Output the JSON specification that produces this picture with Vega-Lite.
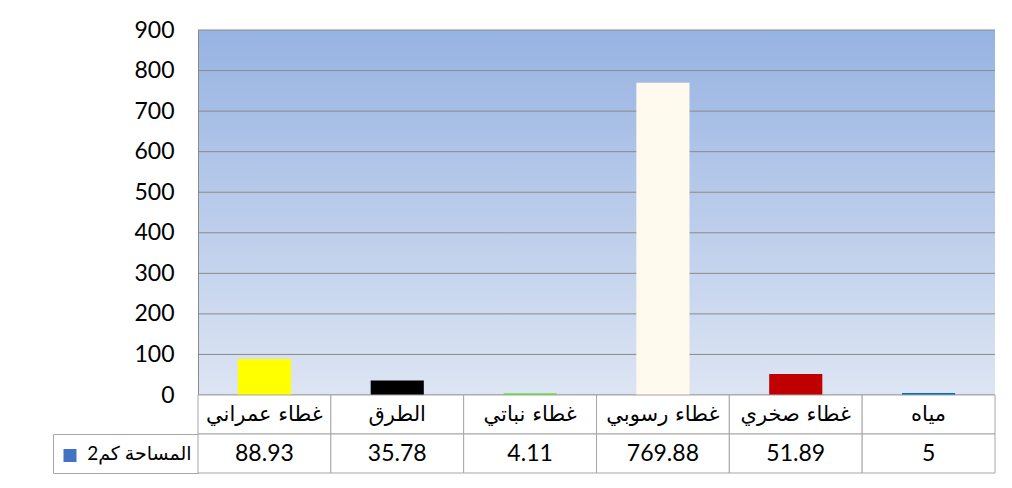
{
  "$schema": "https://vega.github.io/schema/vega-lite/v6.json",
  "padding": {"left": 52, "top": 19, "right": 0, "bottom": 0},
  "background": "white",
  "data": {"values": [
      {"category": "غطاء عمراني", "area": 88.93},
      {"category": "الطرق", "area": 35.78},
      {"category": "غطاء نباتي", "area": 4.11},
      {"category": "غطاء رسوبي", "area": 769.88},
      {"category": "غطاء صخري", "area": 51.89},
      {"category": "مياه", "area": 5}
  ]},
  "columns": 2,
  "spacing": 0,
  "bounds": "flush",
  "config": {"view": {"stroke": null}, "font": "Lato, DejaVu Sans"},
  "concat": [
    {"width": 145, "height": 365, "mark": {"type": "text"}, "encoding": {"text": {"value": ""}}},
    {
      "width": 797,
      "height": 365,
      "layer": [
        {
          "mark": {"type": "rect",
            "color": {"gradient": "linear", "x1": 0, "y1": 0, "x2": 0, "y2": 1,
              "stops": [{"offset": 0, "color": "#97B3E2"}, {"offset": 1, "color": "#DDE5F3"}]}},
          "encoding": {
            "y": {"datum": 0, "type": "quantitative"},
            "y2": {"datum": 900}
          }
        },
        {
          "data": {"values": [{"v": 0}, {"v": 100}, {"v": 200}, {"v": 300}, {"v": 400}, {"v": 500}, {"v": 600}, {"v": 700}, {"v": 800}, {"v": 900}]},
          "mark": {"type": "rule", "color": "#8A8A8A", "strokeWidth": 1},
          "encoding": {"y": {"field": "v", "type": "quantitative"}}
        },
        {
          "mark": {"type": "bar"},
          "encoding": {
            "x": {"field": "category", "type": "nominal", "sort": null,
              "scale": {"type": "band", "paddingInner": 0.6, "paddingOuter": 0.3}, "axis": null},
            "y": {"field": "area", "type": "quantitative",
              "scale": {"domain": [0, 900], "nice": false},
              "axis": {"values": [0, 100, 200, 300, 400, 500, 600, 700, 800, 900],
                "grid": false, "zindex": 1,
                "domain": true, "domainColor": "#8A8A8A", "domainWidth": 1,
                "ticks": false, "labelPadding": 24, "labelFont": "Lato",
                "labelFontSize": 23, "labelColor": "#000000", "title": null, "labelFlush": false}},
            "color": {"field": "category", "type": "nominal", "sort": null,
              "scale": {"domain": ["غطاء عمراني", "الطرق", "غطاء نباتي", "غطاء رسوبي", "غطاء صخري", "مياه"],
                "range": ["#FFFF00", "#000000", "#5CE632", "#FFF9EE", "#C00000", "#0070C0"]},
              "legend": null}
          }
        }
      ]
    },
    {"width": 145, "height": 39, "mark": {"type": "text"}, "encoding": {"text": {"value": ""}}},
    {
      "width": 797,
      "height": 39,
      "layer": [
        {
          "mark": {"type": "rect", "fill": "#FFFFFF", "stroke": "#A6A6A6", "strokeWidth": 1},
          "encoding": {
            "x": {"field": "category", "type": "nominal", "sort": null,
              "scale": {"type": "band", "paddingInner": 0, "paddingOuter": 0}, "axis": null}
          }
        },
        {
          "mark": {"type": "text", "font": "DejaVu Sans", "fontSize": 21, "fill": "#000000", "baseline": "middle"},
          "encoding": {
            "x": {"field": "category", "type": "nominal", "sort": null},
            "text": {"field": "category", "type": "nominal"}
          }
        }
      ]
    },
    {
      "width": 145,
      "height": 39,
      "view": {"stroke": "#A6A6A6"},
      "mark": {"type": "text"},
      "encoding": {
        "text": {"value": ""},
        "y": {"datum": "swatch", "type": "nominal",
          "scale": {"type": "band", "paddingInner": 0, "paddingOuter": 0},
          "axis": {"title": null, "labels": false, "domain": false, "ticks": true,
            "tickSize": 13, "tickWidth": 13, "tickColor": "#4472C4", "tickCap": "butt",
            "offset": -23, "tickOffset": 1}}
      }
    },
    {
      "width": 797,
      "height": 39,
      "layer": [
        {
          "mark": {"type": "rect", "fill": "#FFFFFF", "stroke": "#A6A6A6", "strokeWidth": 1},
          "encoding": {
            "x": {"field": "category", "type": "nominal", "sort": null,
              "scale": {"type": "band", "paddingInner": 0, "paddingOuter": 0}, "axis": null}
          }
        },
        {
          "mark": {"type": "text", "font": "Lato", "fontSize": 23, "fill": "#000000", "baseline": "middle"},
          "encoding": {
            "x": {"field": "category", "type": "nominal", "sort": null},
            "y": {"datum": "المساحة كم2", "type": "nominal",
              "scale": {"type": "band", "paddingInner": 0, "paddingOuter": 0},
              "axis": {"title": null, "ticks": false, "domain": false, "labelPadding": 7,
                "labelFont": "Lato, DejaVu Sans", "labelFontSize": 19, "labelColor": "#000000",
                "labelLimit": 300}},
            "text": {"field": "area", "type": "quantitative"}
          }
        }
      ]
    }
  ]
}
